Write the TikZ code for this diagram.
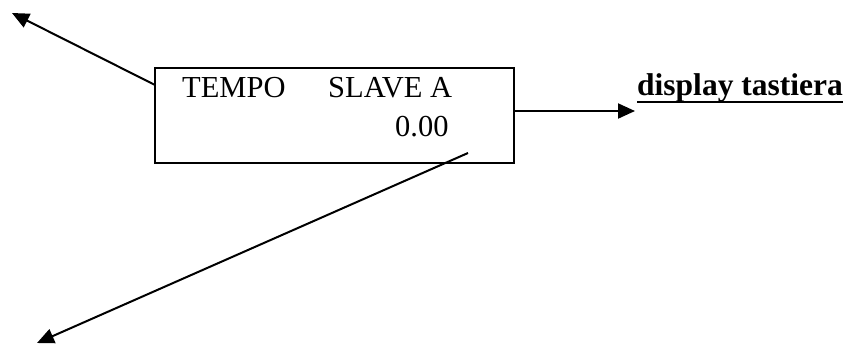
\documentclass[tikz,border=0pt]{standalone}
\usepackage{fontspec}
\setmainfont{Liberation Serif}
\usetikzlibrary{arrows.meta}
\begin{document}
\begin{tikzpicture}[x=1bp,y=-1bp,
  line/.style={line width=2bp,black},
  arr/.style={line, -{Triangle[length=17bp,width=15bp]}},
  txt/.style={anchor=base west,inner sep=0pt,font=\fontsize{30.5bp}{36bp}\selectfont},
  boldtxt/.style={anchor=base west,inner sep=0pt,font=\fontsize{31.5bp}{36bp}\selectfont\bfseries}]
\useasboundingbox (0,0) rectangle (847,344);
\node[draw,line width=2bp,minimum width=359bp,minimum height=95bp,inner sep=0pt] (disp) at (334.5,115.5) {};
\node[txt] (t1) at (182,97) {TEMPO};
\node[txt] (t2) at (328,97) {SLAVE A};
\node[txt] (t3) at (395,136) {0.00};
\node[boldtxt] (lab) at (637,95) {display tastiera};
\draw[line width=2.8bp] ([yshift=-7bp]lab.base west) -- ([yshift=-7bp]lab.base east);
\coordinate (s1) at (155,85);
\coordinate (e1) at (12,13);
\coordinate (s2) at (468,153);
\coordinate (e2) at (37,343);
\coordinate (e3) at (635,111);
\draw[arr] (s1) -- (e1);
\draw[arr] (s2) -- (e2);
\draw[arr] (disp.east |- e3) -- (e3);
\end{tikzpicture}
\end{document}
